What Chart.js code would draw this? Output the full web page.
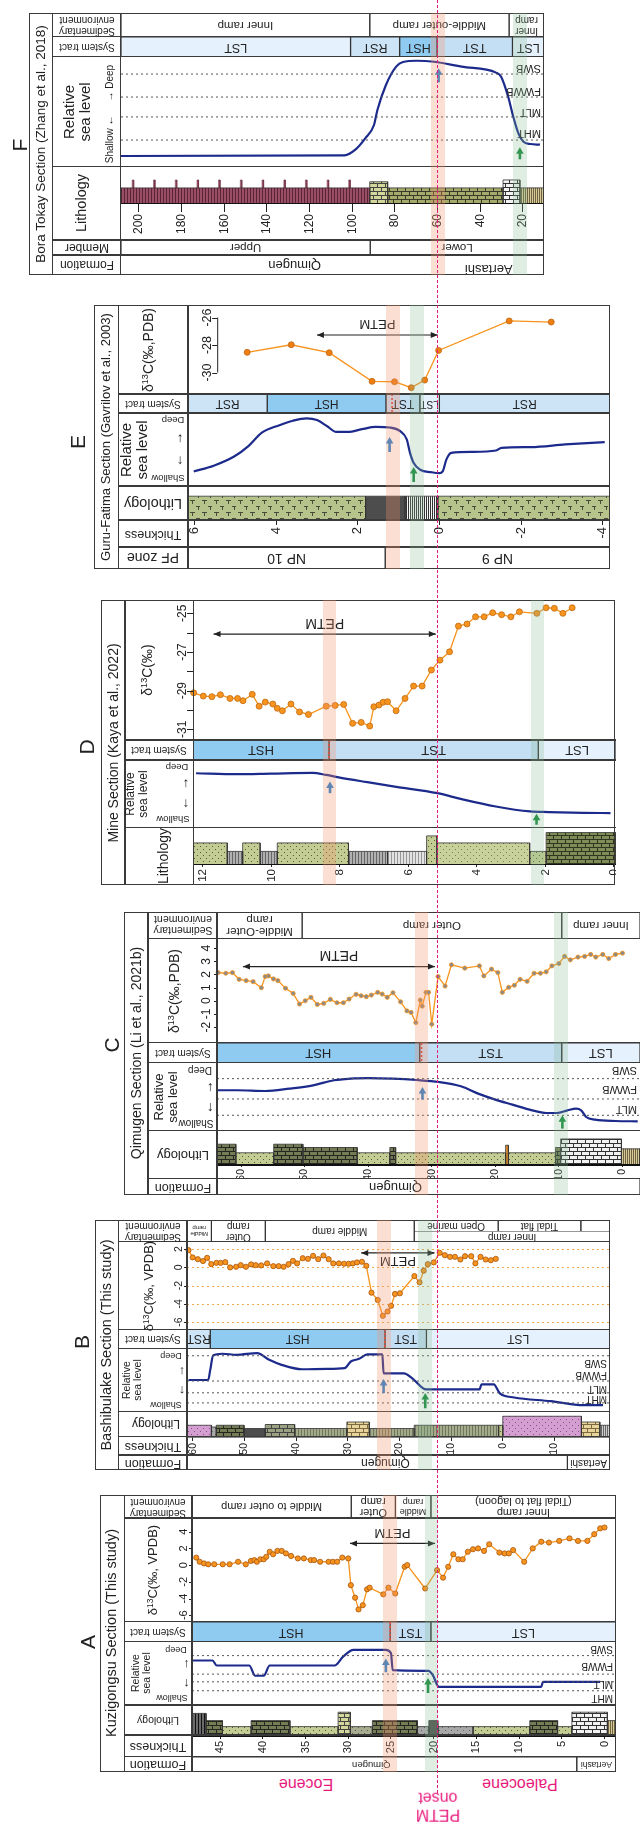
<!DOCTYPE html>
<html>
<head>
<meta charset="utf-8">
<script src="https://cdn.jsdelivr.net/npm/chart.js@4.4.1/dist/chart.umd.min.js"></script>
<style>
  html, body { margin: 0; padding: 0; background: #fff; }
  #fig { position: relative; width: 640px; height: 1826px; overflow: hidden;
         font-family: "Liberation Sans", Arial, sans-serif; color: #222; }
  #fig canvas { position: absolute; }
  .ln { position: absolute; background: #3a3a3a; }
  .frame { position: absolute; border: 1.5px solid #3a3a3a; box-sizing: border-box; }
  .tx { position: absolute; white-space: nowrap; text-align: center; line-height: 1.05; }
  .tx sup { font-size: 0.65em; vertical-align: 0.55em; line-height: 0; }
  .shade { position: absolute; }
</style>
</head>
<body>
<div id="fig"></div>
<script>
const FONT = '"Liberation Sans", Arial, sans-serif';
const ORANGE = '#f7941d', NAVY = '#1c2a8c', MAGENTA = '#e8197d';

// --- A: Kuzigongsu section ------------------------------------------------
const A_C13 = [[47.8,0.9],[47.4,0.4],[46.9,0.2],[46.4,0.1],[45.7,0.1],[44.7,0.1],[43.9,0.1],[42.9,0.4],[42.0,0.1],[41.4,0.5],[41.0,0.6],[40.7,0.4],[40.3,0.7],[39.9,0.7],[39.6,1.0],[39.2,1.6],[38.8,1.3],[38.3,1.7],[37.8,1.7],[37.3,1.4],[36.7,1.1],[35.9,0.8],[35.2,0.8],[34.4,0.6],[34.0,0.6],[33.3,0.4],[32.3,0.4],[31.8,0.4],[31.3,0.4],[30.7,0.9],[30.0,0.8],[29.7,-2.4],[29.2,-3.9],[28.8,-5.3],[28.3,-4.8],[27.8,-2.9],[27.5,-2.7],[25.9,-3.5],[25.3,-2.7],[24.5,-3.4],[23.4,-0.2],[23.1,0.0],[21.0,-2.8],[19.6,-0.6],[18.9,-1.5],[18.3,-0.2],[17.7,1.3],[17.1,0.7],[16.6,0.7],[16.0,1.6],[15.4,1.9],[14.8,2.0],[14.1,1.7],[13.5,2.5],[12.3,1.5],[11.7,1.4],[11.2,1.4],[10.7,1.8],[9.4,0.4],[8.4,2.0],[7.4,2.8],[6.5,2.7],[5.3,2.9],[4.1,3.2],[3.1,2.9],[2.0,2.9],[1.2,3.7],[0.5,4.4],[0.0,4.5]];
const A_C13_TICKS = [-6, -4, -2, 0, 2, 4];
const A_PETM = { from: 29.8, to: 19.85, y: 2.6, textY: 3.9 };
const A_SEA = [[48.2,70.6],[45.9,70.6],[45.4,62.7],[41.6,62.7],[40.9,46.4],[39.9,46.4],[39.2,62.7],[31.6,62.7],[30.6,76.8],[29.4,87.4],[25.6,87.4],[25.0,82.2],[24.8,55.3],[20.6,54.2],[20.1,47.4],[19.4,28.9],[7.4,28.9],[7.2,36.8],[0.5,36.8]];
const A_SEA_LINES = [78.4, 49, 36.8, 22.6];
const A_SEA_LABELS = [['SWB', 90], ['FWWB', 62], ['MLT', 33], ['MHT', 12]];
const A_ARROWS = [[25.6, 52, 74, 'blue'], [20.66, 19, 43, 'green']];
const A_LITH = [[48.3,46.65,72,'hatch'],[46.65,44.73,48,'brickDark'],[44.73,41.38,28,'dot'],[41.38,36.83,48,'brickDark'],[36.83,31.19,28,'dot'],[31.19,29.76,76,'brickOlive'],[29.76,27.18,28,'dotGray'],[27.18,21.91,48,'brickDark'],[21.91,20.57,28,'gray'],[20.57,19.51,48,'dark'],[19.51,15.39,28,'gray'],[15.39,8.75,28,'dot'],[8.75,5.49,48,'brickDark'],[5.49,3.82,28,'dot'],[3.82,-0.34,76,'brickWhite'],[-0.34,-1.35,48,'stripeBeige']];
const A_THICK_TICKS = [0, 5, 10, 15, 20, 25, 30, 35, 40, 45];
const A_TRACTS = [[48.3,25.1,'HST'],[25.1,20.33,'TST'],[20.33,-1.35,'LST']];
const A_MFS = 25.1;
const A_ENV = [[48.3,29.66,'Middle to outer ramp'],[29.66,24.49,'Outer\nramp'],[24.49,20.33,'Middle\nramp',0,1,null,1,9],[20.33,-1.35,'Inner ramp\n(Tidal flat to lagoon)']];
const A_FM = [[48.3,3.25,'Qimugen',0,1,27.3],[3.25,-1.35,'Aertashi',0,1,null,1,8.5]];
const A_SHADE = [[25.9,24.3,'orange'],[21.04,19.51,'green']];

// --- B: Bashibulake section -----------------------------------------------
const B_C13 = [[60.8,1.9],[60.0,1.1],[59.0,0.9],[58.0,0.7],[57.2,1.05],[56.4,0.36],[55.4,0.5],[54.6,0.5],[53.7,0.58],[52.75,0],[51.6,0.07],[50.7,0.25],[49.7,0.07],[48.7,0.33],[47.8,0.25],[46.75,0.22],[45.6,0.44],[44.4,0.14],[43.35,0.14],[42.4,0.07],[41.45,0.36],[40.6,0.72],[39.8,0.44],[38.7,1.01],[37.7,0.94],[36.7,1.27],[35.7,0.91],[34.7,1.31],[33.7,0.91],[32.8,0.44],[31.7,0.44],[30.7,0.4],[29.8,0.4],[29.0,0.44],[28.2,0.55],[27.25,0.62],[26.4,0.18],[25.4,-2.77],[24.2,-3.57],[23.2,-5.31],[22.3,-4.84],[21.6,-4.22],[20.85,-2.91],[19.9,-2.84],[17.1,-0.95],[16.1,-1.64],[15.3,-0.36],[14.5,0.36],[13.35,0.55],[12.2,1.6],[11.2,1.34],[10.2,1.16],[9.25,1.16],[8.2,0.87],[7.3,1.23],[6.1,1.23],[5.3,0.44],[4.3,1.16],[3.3,0.87],[2.3,0.79],[1.35,0.94]];
const B_C13_TICKS = [-6, -4, -2, 0, 2];
const B_PETM = { from: 27.4, to: 13.2, y: 1.59, textY: 0.75 };
const B_SEA = [[60.8,50],[57.0,50],[56.6,65.8],[56.05,88.3],[54.25,91],[51.5,89.4],[47.5,92.1],[45.2,81.5],[42.8,73.7],[38.9,66.8],[34.1,67.4],[30.6,68.5],[29.4,78.9],[27.8,83.1],[26.2,89.9],[23.3,89.9],[23.06,60.5],[19.1,60.5],[17.5,52.6],[14.8,35.3],[10.4,35.3],[4.5,35.3],[4.1,43.2],[1.75,43.2],[0.56,29],[-2.2,22.7],[-9.3,16.9],[-15.6,10.6],[-19.4,10.6]];
const B_SEA_LINES = [87.9, 48.4, 30, 14.2];
const B_SEA_LABELS = [['SWB', 77], ['FWWB', 58], ['MLT', 37], ['MHT', 21]];
const B_ARROWS = [[23.06, 29.5, 51.6, 'blue'], [15.0, 5.8, 29.5, 'green']];
const B_LITH = [[61.1,56.38,47,'pinkDot'],[56.38,55.44,40,'gray'],[55.44,50.06,47,'brickDark'],[50.06,45.96,34,'dark'],[45.96,40.27,50,'brickGreenGray'],[40.27,30.17,34,'greenGray'],[30.17,25.82,60,'brickBeige'],[25.82,17.14,34,'greenGray'],[17.14,0.8,47,'greenGray'],[0.8,0,47,'dot'],[0,-15.22,83,'pinkDot'],[-15.22,-18.78,60,'brickBeige'],[-18.78,-20.75,47,'stripeGray']];
const B_THICK_TICKS = [-10, 0, 10, 20, 30, 40, 50, 60];
const B_TRACTS = [[61.1,56.6,'RST'],[56.6,22.8,'HST'],[22.8,14.77,'TST'],[14.77,-20.75,'LST']];
const B_MFS = 22.8;
const B_ENV = [[61.1,56.38,'Middle\nramp',0,2,null,1,6],[56.38,45.96,'Outer\nramp',0,2],[45.96,17.14,'Middle ramp',0,2],[17.14,0.9,'Open marine',1,2],[0.9,-15.1,'Tidal flat',1,2],[-15.1,-20.75,'',1,2],[17.14,-20.75,'Inner ramp',0,1]];
const B_FM = [[61.1,-12.5,'Qimugen',0,1,22.7],[-12.5,-20.75,'Aertashi',0,1,null,1,10]];
const B_SHADE = [[24.24,21.64,'orange'],[16.34,13.75,'green']];

// --- C: Qimugen section (Li et al., 2021b) --------------------------------
const C_C13 = [[63.6,2.14],[62.4,2.09],[61.35,2.14],[60.3,1.63],[59.2,1.53],[58.1,1.45],[56.8,0.99],[56.2,1.84],[55.7,1.89],[54.9,1.66],[54.2,1.53],[53.0,0.95],[51.8,0.56],[50.8,-0.25],[49.9,0],[49.0,0.26],[48.0,-0.28],[47.0,-0.2],[45.95,0.1],[44.9,-0.15],[43.9,-0.15],[43.0,0.13],[41.9,0.49],[41.1,0.38],[40.3,0.31],[39.5,0.43],[38.5,0.64],[37.8,0.51],[37.0,0.26],[36.1,0.61],[34.9,-0.08],[33.9,-0.77],[33.25,-0.89],[32.5,-1.66],[31.8,0.05],[31.5,-0.41],[30.9,0.64],[30.5,0.64],[30.0,-1.78],[29.0,1.84],[27.9,1.12],[26.9,2.73],[24.8,2.48],[22.5,2.65],[21.8,1.89],[20.6,2.4],[19.6,2.14],[18.9,0.64],[17.9,1.02],[17.0,1.18],[16.1,1.63],[15.0,1.48],[13.9,2.09],[12.9,2.09],[12.0,2.2],[11.1,2.65],[10.0,2.83],[9.1,3.37],[8.2,3.11],[7.0,3.32],[5.95,3.37],[5.0,3.52],[4.2,3.32],[3.1,3.52],[2.15,3.21],[1.1,3.52],[0,3.62]];
const C_C13_TICKS = [-2, -1, 0, 1, 2, 3, 4];
const C_PETM = { from: 59.7, to: 29.5, y: 2.6, textY: 3.5 };
const C_SEA = [[63.8,59.9],[60.55,59.9],[56.2,58.8],[52.4,62.3],[48.65,67.2],[45.4,74.6],[42.2,77.5],[40,77.9],[36.2,77],[32.4,75],[28.9,72.1],[25.4,65.7],[22.7,55],[20,46.2],[17.3,38.8],[14.6,31.4],[11.9,26.5],[10.3,26.5],[8.65,30.4],[7.3,32.9],[6.5,30.4],[5.7,20.6],[4.3,16.7],[1.1,14.7],[-2.4,14.3]];
const C_SEA_LINES = [77, 47.1, 23.1];
const C_SEA_LABELS = [['SWB', 89], ['FWWB', 62], ['MLT', 33]];
const C_ARROWS = [[31.46, 46.2, 64.7, 'blue'], [9.45, 3.5, 23.1, 'green']];
const C_LITH = [[63.78,60.82,60,'brickDark'],[60.82,54.87,34,'dot'],[54.87,50.27,60,'brickDark'],[50.27,41.73,50,'brickDark'],[41.73,36.6,34,'dot'],[36.6,35.68,50,'brickDark'],[35.68,18.38,34,'dot'],[18.38,17.94,57,'orange'],[17.94,10.53,34,'dot'],[10.53,9.73,50,'brickDark'],[9.73,0.16,76,'brickWhite'],[0.16,-2.76,46,'stripeBeige']];
const C_THICK_TICKS = [0, 10, 20, 30, 40, 50, 60];
const C_TRACTS = [[63.78,31.9,'HST'],[31.9,9.56,'TST'],[9.56,-2.76,'LST']];
const C_MFS = 31.6;
const C_ENV = [[63.78,50.4,'Middle-Outer\nramp'],[50.4,9.56,'Outer ramp'],[9.56,-2.76,'Inner ramp']];
const C_FM = [[63.78,-2.76,'Qimugen',0,1,35.7]];
const C_SHADE = [[32.7,30.53,'orange'],[10.7,8.54,'green']];

// --- D: Mine section (Kaya et al., 2022) ----------------------------------
const D_C13 = [[12.27,-29.11],[11.99,-29.28],[11.74,-29.31],[11.49,-29.21],[11.21,-29.4],[10.99,-29.4],[10.83,-29.52],[10.56,-29.19],[10.36,-29.8],[10.18,-29.59],[9.96,-29.69],[9.83,-29.91],[9.68,-30.04],[9.43,-29.69],[9.18,-30.1],[8.92,-30.23],[8.4,-29.8],[8.14,-29.76],[7.89,-29.71],[7.63,-30.69],[7.38,-30.64],[7.13,-30.83],[7.01,-29.83],[6.86,-29.74],[6.74,-29.6],[6.61,-29.57],[6.36,-30.04],[6.1,-29.4],[5.85,-28.76],[5.6,-28.76],[5.33,-27.93],[5.08,-27.42],[4.8,-26.99],[4.54,-25.66],[4.29,-25.55],[4.04,-25.18],[3.79,-25.18],[3.54,-24.97],[3.28,-25.07],[3.01,-25.18],[2.76,-24.92],[2.25,-25.0],[1.98,-24.71],[1.74,-24.74],[1.49,-25.0],[1.22,-24.71]];
const D_C13_TICKS = [-31, -29, -27, -25];
const D_C13_MINOR = [-31, -30, -29, -28, -27, -26, -25];
const D_PETM = { from: 11.69, to: 5.2, y: -26.07, textY: -25.5 };
const D_SEA = [[12.2,80.2],[11.0,78.8],[10.0,79.7],[8.8,80.7],[8.4,77.7],[8.0,73.7],[7.2,66.9],[6.4,60.3],[5.15,50.5],[4.45,41.6],[3.45,30.6],[2.45,23.2],[1.9,22.3],[0.9,21.2],[0.1,20.8]];
const D_ARROWS = [[8.29, 50.5, 67.8, 'blue'], [2.26, 3.4, 19.8, 'green']];
const D_LITH = [[12.3,11.29,57,'dot'],[11.29,10.84,34,'vline'],[10.84,10.33,57,'dot'],[10.33,9.83,34,'vline'],[9.83,7.75,57,'dot'],[7.75,6.61,34,'vline'],[6.61,5.47,34,'vlineLight'],[5.47,5.17,76,'dot'],[5.17,2.46,57,'dotFine'],[2.46,1.98,34,'dot'],[1.98,-0.06,85,'brickDarkGreen']];
const D_THICK_TICKS = [0, 2, 4, 6, 8, 10, 12];
const D_TRACTS = [[12.29,8.32,'HST'],[8.32,2.21,'TST'],[2.21,-0.06,'LST']];
const D_MFS = 8.32;
const D_SHADE = [[8.49,8.1,'orange'],[2.43,2.03,'green']];

// --- E: Guru-Fatima section (Gavrilov et al., 2003) -----------------------
const E_C13 = [[4.71,-28.53],[3.63,-27.98],[2.7,-28.56],[1.65,-30.64],[1.1,-30.67],[0.69,-31.1],[0.36,-30.55],[0.02,-28.39],[-1.71,-26.25],[-2.74,-26.33]];
const E_C13_TICKS = [-30, -28, -26];
const E_PETM = { from: 3.0, to: 0.04, y: -27.27, textY: -26.45 };
const E_SEA = [[6.02,19.9],[5.53,27.8],[5.02,40.7],[4.68,54.6],[4.35,73.1],[3.92,83.3],[3.59,89.4],[3.25,92.6],[3.0,90.3],[2.74,81.5],[2.53,74.1],[2.24,74.1],[1.9,77.8],[1.56,81],[1.22,80.1],[0.97,75.5],[0.8,63.9],[0.72,45.4],[0.63,31.5],[0.47,22.2],[0.21,19],[0,17.6],[-0.08,19.9],[-0.17,36.1],[-0.29,45.4],[-0.8,46.8],[-1.39,48.6],[-1.52,52.3],[-2.24,53.2],[-3.08,56.9],[-4.05,60.2]];
const E_ARROWS = [[1.22, 46.6, 67.1, 'blue'], [0.63, 5.5, 26, 'green']];
const E_LITH = [[6.16,1.81,70,'tee'],[1.81,0.84,70,'dark'],[0.84,0.04,70,'vlineWhite'],[0.04,-4.18,70,'tee']];
const E_THICK_TICKS = [-4, -2, 0, 2, 4, 6];
const E_TRACTS = [[6.16,4.22,'RST'],[4.22,1.31,'HST'],[1.31,0.48,'TST'],[0.48,0.0,'LST',0,1,null,1,10],[0.0,-4.18,'RST']];
const E_MFS = 1.16;
const E_PF = [[6.16,1.33,'NP 10'],[1.33,-4.18,'NP 9']];
const E_SHADE = [[1.31,0.97,'orange'],[0.72,0.38,'green']];

// --- F: Bora Tokay section (Zhang et al., 2018) ---------------------------
const F_SEA = [[208.4,10],[103.6,10.6],[98.7,15.5],[93.9,26.1],[89.8,38.2],[88.2,51.8],[84.2,74.5],[79.4,91.2],[76.2,95.5],[69.7,96.6],[61.6,95.7],[48.7,91.2],[32.6,85.8],[30.2,82.1],[26.9,63.9],[24.5,45.7],[22.1,30.6],[19.7,23],[16.5,20.9],[12,20.3]];
const F_SEA_LINES = [84.5, 63.6, 45.5, 24.5];
const F_SEA_LABELS = [['SWB', 89.7], ['FWWB', 69.4], ['MLT', 50], ['MHT', 31.2]];
const F_ARROWS = [[59.5, 77, 89.7, 'blue'], [21.4, 7, 17.9, 'green']];
const F_LITH = [[208.4,91.8,42,'pink'],[91.8,83.4,59,'brickOlive'],[83.4,29.3,42,'brickDarkOlive'],[29.3,21.4,64,'brickWhite'],[21.4,10.1,42,'stripeBeige']];
const F_NODULES = [202.8, 192.8, 182.6, 172.4, 162.3, 152.1, 141.9, 131.7, 121.6, 111.4, 101.3];
const F_THICK_TICKS = [20, 40, 60, 80, 100, 120, 140, 160, 180, 200];
const F_TRACTS = [[208.4,100.8,'LST'],[100.8,77.8,'RST'],[77.8,60.3,'HST'],[60.3,24.9,'TST'],[24.9,10.1,'LST']];
const F_ENV = [[208.4,91.8,'Inner ramp'],[91.8,26.5,'Middle-outer ramp'],[26.5,10.1,'Inner\nramp',0,1,null,1,10]];
const F_MEMBER = [[208.4,91.6,'Upper'],[91.6,10.1,'Lower']];
const F_FM = [[208.4,10.1,'Qimugen',0,1,127,0],[59.5,10.1,'Aertashi',0,0.62,36],[21.4,10.1,'',0.62,1]];
const F_SHADE = [[62.9,56.5,'orange'],[24.5,18.1,'green']];

const PETM_ONSET_A = 19.5;

// --------------------------------------------------------------------------
Chart.defaults.font.family = FONT;
Chart.defaults.color = '#222';
const fig = document.getElementById('fig');

const TRACT_FILL = { HST: '#8fcbf1', TST: '#c4def4', LST: '#e5f1fc', RST: '#cde4f6' };
const SHADE_FILL = { orange: 'rgba(245,150,110,0.30)', green: 'rgba(130,185,145,0.26)' };
const ARROW_COL = { blue: '#1f7fd0', green: '#168a3a' };

// lithology fills ------------------------------------------------------------
function tile(w, h, bg, fg, draw) {
  const c = document.createElement('canvas');
  c.width = w; c.height = h;
  const g = c.getContext('2d');
  g.fillStyle = bg; g.fillRect(0, 0, w, h);
  g.fillStyle = fg;
  if (draw) draw(g);
  return g.createPattern(c, 'repeat');
}
const dots  = g => { g.fillRect(1, 1, 1, 1); g.fillRect(4, 4, 1, 1); };
const brick = g => { g.fillRect(0, 0, 8, 1); g.fillRect(0, 4, 8, 1); g.fillRect(0, 0, 1, 4); g.fillRect(4, 4, 1, 4); };
const vl    = g => g.fillRect(0, 0, 1, 8);
const tee   = g => { g.fillRect(2, 2, 5, 1); g.fillRect(4, 2, 1, 4); g.fillRect(8, 8, 5, 1); g.fillRect(10, 8, 1, 4); };
const PAT = {
  dot:            tile(6, 6, '#c3cc92', '#56583e', dots),
  dotFine:        tile(6, 6, '#c9d19b', '#7a7a60', dots),
  dotGray:        tile(6, 6, '#a9ad90', '#555', dots),
  gray:           tile(6, 6, '#a8a8a8', '#666', dots),
  pinkDot:        tile(6, 6, '#d49fd0', '#84508a', dots),
  brickDark:      tile(8, 8, '#737c54', '#262620', brick),
  brickOlive:     tile(8, 8, '#d3d69a', '#444', brick),
  brickDarkOlive: tile(8, 8, '#a4aa6a', '#3a3a2a', brick),
  brickWhite:     tile(8, 8, '#f2f2f2', '#333', brick),
  brickBeige:     tile(8, 8, '#e8d49a', '#7a6a40', brick),
  brickGreenGray: tile(8, 8, '#9ba283', '#444', brick),
  brickDarkGreen: tile(8, 8, '#7f8c55', '#2f3520', brick),
  greenGray:      tile(3, 8, '#a3ab88', '#6f7560', vl),
  hatch:          tile(3, 8, '#6a6a6a', '#111', vl),
  stripeBeige:    tile(2, 8, '#d6ca98', '#6e6240', vl),
  stripeGray:     tile(2, 8, '#cfcfcf', '#666', vl),
  pink:           tile(3, 8, '#9b4f66', '#5b2336', vl),
  vline:          tile(3, 8, '#b0b0b0', '#666', vl),
  vlineLight:     tile(3, 8, '#e2e2e2', '#999', vl),
  vlineWhite:     tile(2, 8, '#f5f5f5', '#333', vl),
  tee:            tile(12, 12, '#b6c48c', '#4a4a3a', tee),
  dark: '#4d4d4d',
  orange: '#e8902a'
};

// DOM helpers ----------------------------------------------------------------
function canvasAt(x0, y0, x1, y1) {
  const c = document.createElement('canvas');
  const L = Math.round(x0), T = Math.round(y0);
  const W = Math.round(x1) - L, H = Math.round(y1) - T;
  c.width = W; c.height = H;
  c.style.left = L + 'px'; c.style.top = T + 'px';
  c.style.width = W + 'px'; c.style.height = H + 'px';
  c.left = L;
  fig.appendChild(c);
  return c;
}
function div(cls, x, y, w, h, bg) {
  const d = document.createElement('div');
  d.className = cls;
  d.style.left = x + 'px'; d.style.top = y + 'px';
  d.style.width = w + 'px'; d.style.height = h + 'px';
  if (bg) d.style.background = bg;
  fig.appendChild(d);
  return d;
}
function hline(x0, x1, y, w) { w = w || 1.5; div('ln', x0, y - w / 2, x1 - x0, w); }
function vline(x, y0, y1, w) { w = w || 1.5; div('ln', x - w / 2, y0, w, y1 - y0); }
function txt(html, cx, cy, rot, size, color) {
  const d = document.createElement('div');
  d.className = 'tx';
  d.innerHTML = html;
  d.style.fontSize = size + 'px';
  d.style.left = cx + 'px'; d.style.top = cy + 'px';
  d.style.transform = 'translate(-50%,-50%) rotate(' + rot + 'deg)';
  if (color) d.style.color = color;
  fig.appendChild(d);
}

// canvas drawing helpers -----------------------------------------------------
function rotText(ctx, text, x, y, ang, size, color, align) {
  ctx.save();
  ctx.translate(x, y); ctx.rotate(ang);
  ctx.font = size + 'px ' + FONT;
  ctx.fillStyle = color || '#222';
  ctx.textAlign = align || 'center';
  ctx.textBaseline = 'middle';
  const lines = String(text).split('\n'), lh = size * 1.05;
  lines.forEach((s, i) => ctx.fillText(s, 0, (i - (lines.length - 1) / 2) * lh));
  ctx.restore();
}
function upArrow(ctx, x, yb, yt, col) {
  ctx.save();
  ctx.strokeStyle = col; ctx.fillStyle = col; ctx.lineWidth = 2.6;
  ctx.beginPath(); ctx.moveTo(x, yb); ctx.lineTo(x, yt + 6); ctx.stroke();
  ctx.beginPath(); ctx.moveTo(x - 3.8, yt + 6.5); ctx.lineTo(x + 3.8, yt + 6.5); ctx.lineTo(x, yt); ctx.closePath(); ctx.fill();
  ctx.restore();
}
function dblArrow(ctx, xa, xb, y) {
  ctx.save();
  ctx.strokeStyle = '#222'; ctx.fillStyle = '#222'; ctx.lineWidth = 1.2;
  ctx.beginPath(); ctx.moveTo(xa, y); ctx.lineTo(xb, y); ctx.stroke();
  [[xa, 1], [xb, -1]].forEach(([x, d]) => {
    ctx.beginPath(); ctx.moveTo(x, y); ctx.lineTo(x + d * 7, y - 3); ctx.lineTo(x + d * 7, y + 3); ctx.closePath(); ctx.fill();
  });
  ctx.restore();
}

// plugins: each reads its settings from chart.canvas.cfg ---------------------
const bandText = {
  id: 'bandText',
  afterDatasetsDraw(chart) {
    const cfg = chart.canvas.cfg, { ctx, chartArea: a, scales: { x, y } } = chart;
    cfg.bands.forEach(b => {
      const [t0, t1, label, lo = 0, hi = 1, lt, , fs] = b;
      if (!label) return;
      const cx = lt != null ? x.getPixelForValue(lt) : (x.getPixelForValue(t0) + x.getPixelForValue(t1)) / 2;
      const cy = (y.getPixelForValue(lo) + y.getPixelForValue(hi)) / 2;
      rotText(ctx, label, cx, cy, Math.PI, fs || cfg.size);
    });
    if (cfg.mfs != null) {
      const px = x.getPixelForValue(cfg.mfs);
      ctx.save();
      ctx.strokeStyle = '#e0302a'; ctx.lineWidth = 1.5; ctx.setLineDash([2, 2]);
      ctx.beginPath(); ctx.moveTo(px, a.top); ctx.lineTo(px, a.bottom); ctx.stroke();
      ctx.restore();
    }
  }
};

const c13Axis = {
  id: 'c13Axis',
  beforeDatasetsDraw(chart) {
    const cfg = chart.canvas.cfg, { ctx, chartArea: a, scales: { y } } = chart;
    if (!cfg.grid) return;
    ctx.save();
    ctx.strokeStyle = '#f5a84a'; ctx.lineWidth = 1; ctx.setLineDash([2, 3]);
    cfg.ticks.forEach(v => {
      const py = Math.round(y.getPixelForValue(v)) + 0.5;
      ctx.beginPath(); ctx.moveTo(a.left, py); ctx.lineTo(a.right, py); ctx.stroke();
    });
    ctx.restore();
  },
  afterDatasetsDraw(chart) {
    const cfg = chart.canvas.cfg, { ctx, chartArea: a, scales: { x, y } } = chart;
    const ax = a.left + (cfg.axisOffset || 0);
    ctx.save();
    ctx.strokeStyle = '#222'; ctx.lineWidth = 1;
    if (cfg.axisLine) {
      const ys = cfg.ticks.map(v => y.getPixelForValue(v));
      ctx.beginPath(); ctx.moveTo(ax + 0.5, Math.min(...ys)); ctx.lineTo(ax + 0.5, Math.max(...ys)); ctx.stroke();
    }
    (cfg.minor || cfg.ticks).forEach(v => {
      const py = Math.round(y.getPixelForValue(v)) + 0.5;
      ctx.beginPath(); ctx.moveTo(ax - cfg.tickLen, py); ctx.lineTo(ax, py); ctx.stroke();
    });
    ctx.restore();
    cfg.ticks.forEach(v => rotText(ctx, String(v), ax - cfg.gap, y.getPixelForValue(v), -Math.PI / 2, cfg.size));
    const p = cfg.petm;
    if (p) {
      const xa = x.getPixelForValue(p.from), xb = x.getPixelForValue(p.to);
      dblArrow(ctx, xa, xb, y.getPixelForValue(p.y));
      rotText(ctx, 'PETM', (xa + xb) / 2, y.getPixelForValue(p.textY), Math.PI, cfg.petmSize);
    }
  }
};

const seaDeco = {
  id: 'seaDeco',
  afterDatasetsDraw(chart) {
    const cfg = chart.canvas.cfg, { ctx, chartArea: a, scales: { x, y } } = chart;
    (cfg.labels || []).forEach(([s, v]) => rotText(ctx, s, a.right - 3, y.getPixelForValue(v), Math.PI, cfg.size, '#222', 'left'));
    (cfg.arrows || []).forEach(([t, v0, v1, c]) => upArrow(ctx, x.getPixelForValue(t), y.getPixelForValue(v0), y.getPixelForValue(v1), ARROW_COL[c]));
  }
};

function mk(cv, datasets, scales, plugins, padding) {
  return new Chart(cv, {
    type: 'line',
    data: { datasets },
    options: {
      responsive: false, animation: false, events: [],
      layout: { padding: padding || 0, autoPadding: false },
      plugins: { legend: { display: false }, tooltip: { enabled: false } },
      scales
    },
    plugins: plugins || []
  });
}

function bandSet(b, fill) {
  const [t0, t1, label, lo = 0, hi = 1, , border] = b;
  return {
    data: [{ x: t0, y: lo }, { x: t0, y: hi }, { x: t1, y: hi }, { x: t1, y: lo }],
    fill: { value: lo }, backgroundColor: fill(label),
    borderColor: border === 0 ? 'rgba(0,0,0,0)' : '#333', borderWidth: 1.2,
    pointRadius: 0, tension: 0
  };
}

// one panel -----------------------------------------------------------------
function build(P) {
  const xs = (show, extra) => Object.assign({
    type: 'linear', bounds: 'data', display: !!show,
    min: Math.min(P.tl, P.tr), max: Math.max(P.tl, P.tr), reverse: P.tl > P.tr
  }, extra || {});
  const ys = (min, max) => ({ type: 'linear', bounds: 'data', display: false, min, max });

  const bandRow = (range, list, fill, size, lanes, mfs) => {
    const cv = canvasAt(P.x0, range[0], P.x1, range[1]);
    cv.cfg = { bands: list, size, mfs };
    mk(cv, list.map(b => bandSet(b, fill)), { x: xs(false), y: ys(0, lanes || 1) }, [bandText]);
  };
  const white = () => '#ffffff';

  if (P.envData) bandRow(P.env, P.envData, white, P.envSize, P.envLanes);
  bandRow(P.st, P.tracts, l => TRACT_FILL[l], P.tractSize, 1, P.mfs);
  if (P.memData) bandRow(P.mem, P.memData, white, P.memSize);
  if (P.fmData) bandRow(P.fm, P.fmData, white, P.fmSize);

  if (P.c13Data) {
    const cv = canvasAt(P.x0 - P.c13Zone, P.c13[0], P.x1, P.c13[1]);
    cv.cfg = { ticks: P.c13Ticks, minor: P.c13Minor, gap: P.c13Gap, size: P.c13Size, tickLen: P.c13TickLen || 3,
               axisOffset: P.c13AxisOffset, axisLine: P.c13AxisLine, grid: P.c13Grid, petm: P.petm, petmSize: P.petmSize };
    mk(cv, [{
      data: P.c13Data.map(([x, y]) => ({ x, y })),
      borderColor: ORANGE, borderWidth: 1.3, tension: 0, clip: 6,
      pointRadius: P.ptR, pointBackgroundColor: P.ptFill, pointBorderColor: P.ptEdge, pointBorderWidth: 0.8
    }], { x: xs(false), y: ys(P.c13Range[0], P.c13Range[1]) }, [c13Axis], { left: Math.round(P.x0) - Math.round(P.x0 - P.c13Zone) });
  }

  {
    const cv = canvasAt(P.x0, P.sl[0], P.x1, P.sl[1]);
    cv.cfg = { labels: P.seaLabels, size: P.seaLabelSize, arrows: P.arrows };
    const sets = (P.seaLines || []).map(v => ({
      data: [{ x: P.tl, y: v }, { x: P.tr, y: v }],
      borderColor: '#555', borderWidth: 1, borderDash: [2, 3], pointRadius: 0
    }));
    sets.push({
      data: P.seaData.map(([x, y]) => ({ x, y })),
      borderColor: NAVY, borderWidth: 2.2, pointRadius: 0, cubicInterpolationMode: 'monotone'
    });
    mk(cv, sets, { x: xs(false), y: ys(0, 100) }, [seaDeco]);
  }

  const lcv = canvasAt(P.x0, P.lith[0], P.x1, P.axis[1]);
  lcv.cfg = {};
  const lithSets = P.lithData.map(([t0, t1, h, k]) => ({
    data: [{ x: t0, y: 0 }, { x: t0, y: h }, { x: t1, y: h }, { x: t1, y: 0 }],
    fill: { value: 0 }, backgroundColor: PAT[k], borderColor: '#333', borderWidth: 0.8, pointRadius: 0, tension: 0
  }));
  (P.nodules || []).forEach(t => lithSets.push({
    data: [{ x: t + 0.35, y: 0 }, { x: t + 0.35, y: 64 }, { x: t - 0.35, y: 64 }, { x: t - 0.35, y: 0 }],
    fill: { value: 0 }, backgroundColor: '#9b4f66', borderColor: '#6b2a3e', borderWidth: 0.6, pointRadius: 0
  }));
  const axisH = Math.round(P.axis[1]) - Math.round(P.axis[0]);
  const lc = mk(lcv, lithSets, {
    x: xs(true, {
      position: 'bottom',
      afterBuildTicks: s => { s.ticks = P.thickTicks.map(v => ({ value: v })); },
      afterFit: s => { s.height = axisH; },
      ticks: { minRotation: 90, maxRotation: 90, autoSkip: false, padding: 2,
               font: { size: P.axisSize, family: FONT }, color: '#222', callback: v => String(v) },
      grid: { display: true, drawOnChartArea: false, drawTicks: true, tickLength: P.tickLen, color: '#222', lineWidth: 1 },
      border: { display: true, color: '#111', width: P.borderW }
    }),
    y: ys(0, 100)
  });

  // frame, row lines
  const fr = div('frame', P.L, P.top, P.x1 - P.L + (P.openRight ? 4 : 0), P.bot - P.top);
  vline(P.tc, P.top, P.bot);
  vline(P.x0, P.top, P.bot);
  P.lines.forEach(y => hline(P.tc, P.x1, y));

  // translucent event bands
  const px = t => lc.scales.x.getPixelForValue(t) + lcv.left;
  P.shade.forEach(([t0, t1, c]) => {
    const a = px(t0), b = px(t1);
    div('shade', Math.min(a, b), P.top, Math.abs(b - a), P.bot - P.top, SHADE_FILL[c]);
  });

  // header cells
  const hx = f => P.tc + f * (P.x0 - P.tc);
  P.hdr.forEach(([r, html, rot, size, f]) => {
    const rg = typeof r === 'string' ? P[r] : r;
    txt(html, hx(f), (rg[0] + rg[1]) / 2, rot, size);
  });
  const s = P.sea, [a, b] = P.sl;
  txt('Relative<br>sea level', hx(s.rel), (a + b) / 2, -90, s.relSize);
  if (s.combined) {
    txt('Shallow &#8592;&nbsp;&nbsp;&nbsp;&nbsp;&nbsp;&#8594; Deep', hx(s.arr), (a + b) / 2 + 2, -90, s.small);
  } else {
    txt('Deep', hx(s.deep), a + 7, 180, s.small);
    txt('Shallow', hx(s.shallow), b - 8, 180, s.small);
    txt('&#8593;', hx(s.arr), a + (b - a) * 0.34, 0, s.small + 4);
    txt('&#8595;', hx(s.arr), a + (b - a) * 0.64, 0, s.small + 4);
  }
  txt(P.title, (P.L + P.tc) / 2, (P.top + P.bot) / 2, -90, P.titleSize);
  txt(P.letter, P.lx, P.ly, -90, 21);
  return { px };
}

// panels -------------------------------------------------------------------
const PANEL_A = {
  title: 'Kuzigongsu Section (This study)', titleSize: 14.5, letter: 'A', lx: 88, ly: 1642,
  L: 100, tc: 124.5, x0: 191.8, x1: 615.5, top: 1495, bot: 1771.7, tl: 48.3, tr: -1.35,
  env: [1495, 1518], c13: [1518, 1621.7], st: [1621.7, 1641.7], sl: [1641.7, 1705], lith: [1705, 1735], axis: [1735, 1756.7], fm: [1756.7, 1771.7],
  lines: [1518, 1621.7, 1641.7, 1705, 1735, 1756.7],
  c13Data: A_C13, c13Range: [-6.81, 5.64], c13Ticks: A_C13_TICKS, c13Zone: 15, c13Gap: 8, c13Size: 11,
  ptR: 2.6, ptFill: ORANGE, ptEdge: '#a85512', petm: A_PETM, petmSize: 13,
  seaData: A_SEA, seaLines: A_SEA_LINES, seaLabels: A_SEA_LABELS, seaLabelSize: 10, arrows: A_ARROWS,
  lithData: A_LITH, thickTicks: A_THICK_TICKS, axisSize: 11, tickLen: 4, borderW: 3,
  tracts: A_TRACTS, mfs: A_MFS, tractSize: 12.5,
  envData: A_ENV, envSize: 11, fmData: A_FM, fmSize: 9.5, shade: A_SHADE,
  hdr: [['env', 'Sedimentary<br>environment', 180, 10, 0.5], ['c13', '&delta;<sup>13</sup>C(&permil;, VPDB)', -90, 13, 0.42],
        ['st', 'System tract', 180, 10, 0.5], ['lith', 'Lithology', 180, 10.5, 0.5], ['axis', 'Thickness', 180, 12.5, 0.5], ['fm', 'Formation', 180, 12.5, 0.5]],
  sea: { rel: 0.25, relSize: 10.5, deep: 0.77, shallow: 0.7, arr: 0.92, small: 9 }
};
const PANEL_B = {
  title: 'Bashibulake Section (This study)', titleSize: 14.5, letter: 'B', lx: 82, ly: 1342,
  L: 94.7, tc: 118.4, x0: 186.9, x1: 610.2, top: 1220, bot: 1470, tl: 61.1, tr: -20.75,
  env: [1220, 1241.7], c13: [1241.7, 1329.3], st: [1329.3, 1348.3], sl: [1348.3, 1411.7], lith: [1411.7, 1436.7], axis: [1436.7, 1455], fm: [1455, 1470],
  lines: [1241.7, 1329.3, 1348.3, 1411.7, 1436.7, 1455],
  c13Data: B_C13, c13Range: [-6.76, 2.79], c13Ticks: B_C13_TICKS, c13Zone: 15, c13Gap: 8, c13Size: 10.5, c13Grid: true,
  ptR: 2.6, ptFill: ORANGE, ptEdge: '#a85512', petm: B_PETM, petmSize: 13,
  seaData: B_SEA, seaLines: B_SEA_LINES, seaLabels: B_SEA_LABELS, seaLabelSize: 10, arrows: B_ARROWS,
  lithData: B_LITH, thickTicks: B_THICK_TICKS, axisSize: 10.5, tickLen: 4, borderW: 1.5,
  tracts: B_TRACTS, mfs: B_MFS, tractSize: 12,
  envData: B_ENV, envLanes: 2, envSize: 10, fmData: B_FM, fmSize: 12, shade: B_SHADE,
  hdr: [['env', 'Sedimentary<br>environment', 180, 10, 0.5], ['c13', '&delta;<sup>13</sup>C(&permil;, VPDB)', -90, 13, 0.45],
        ['st', 'System tract', 180, 10, 0.5], ['lith', 'Lithology', 180, 12, 0.55], ['axis', 'Thickness', 180, 12.5, 0.5], ['fm', 'Formation', 180, 12.5, 0.5]],
  sea: { rel: 0.2, relSize: 10.5, deep: 0.77, shallow: 0.7, arr: 0.93, small: 9 }
};
const PANEL_C = {
  title: 'Qimugen Section (Li et al., 2021b)', titleSize: 14, letter: 'C', lx: 112, ly: 1045,
  L: 124.1, tc: 148.2, x0: 217.1, x1: 640, openRight: true, top: 911.7, bot: 1195, tl: 63.78, tr: -2.76,
  env: [911.7, 938.3], c13: [938.3, 1042.7], st: [1042.7, 1062.7], sl: [1062.7, 1130.7], lith: [1130.7, 1164], axis: [1164, 1178.3], fm: [1178.3, 1195],
  lines: [938.3, 1042.7, 1062.7, 1130.7, 1178.3],
  c13Data: C_C13, c13Range: [-3.21, 4.77], c13Ticks: C_C13_TICKS, c13Zone: 19, c13Gap: 10.5, c13Size: 12,
  ptR: 2.1, ptFill: '#8a8a8a', ptEdge: ORANGE, petm: C_PETM, petmSize: 14,
  seaData: C_SEA, seaLines: C_SEA_LINES, seaLabels: C_SEA_LABELS, seaLabelSize: 11, arrows: C_ARROWS,
  lithData: C_LITH, thickTicks: C_THICK_TICKS, axisSize: 10.5, tickLen: 3, borderW: 3,
  tracts: C_TRACTS, mfs: C_MFS, tractSize: 13,
  envData: C_ENV, envSize: 11.5, fmData: C_FM, fmSize: 13, shade: C_SHADE,
  hdr: [['env', 'Sedimentary<br>environment', 180, 10.5, 0.5], ['c13', '&delta;<sup>13</sup>C(&permil;,PDB)', -90, 14, 0.37],
        ['st', 'System tract', 180, 10, 0.5], [[1130.7, 1178.3], 'Lithology', 180, 13, 0.5], ['fm', 'Formation', 180, 12.5, 0.5]],
  sea: { rel: 0.26, relSize: 13, deep: 0.75, shallow: 0.7, arr: 0.9, small: 10 }
};
const PANEL_D = {
  title: 'Mine Section (Kaya et al., 2022)', titleSize: 14, letter: 'D', lx: 87, ly: 747,
  L: 100.7, tc: 125, x0: 193.3, x1: 615.5, top: 600, bot: 885, tl: 12.29, tr: -0.06,
  c13: [600, 740], st: [740, 760], sl: [760, 827.3], lith: [827.3, 864.3], axis: [864.3, 885],
  lines: [740, 760, 827.3],
  c13Data: D_C13, c13Range: [-31.55, -24.31], c13Ticks: D_C13_TICKS, c13Minor: D_C13_MINOR, c13Zone: 19, c13Gap: 10.5, c13Size: 12, c13TickLen: 6,
  ptR: 3, ptFill: ORANGE, ptEdge: '#c26a14', petm: D_PETM, petmSize: 14,
  seaData: D_SEA, arrows: D_ARROWS,
  lithData: D_LITH, thickTicks: D_THICK_TICKS, axisSize: 11.5, tickLen: 3, borderW: 1,
  tracts: D_TRACTS, mfs: D_MFS, tractSize: 13, shade: D_SHADE,
  hdr: [['c13', '&delta;<sup>13</sup>C(&permil;)', -90, 14, 0.32], ['st', 'System tract', 180, 10, 0.5],
        [[827.3, 885], 'Lithology', -90, 14, 0.56]],
  sea: { rel: 0.17, relSize: 12, deep: 0.76, shallow: 0.7, arr: 0.89, small: 9.5 }
};
const PANEL_E = {
  title: 'Guru-Fatima Section (Gavrilov et al., 2003)', titleSize: 13, letter: 'E', lx: 78, ly: 442,
  L: 94.3, tc: 118.3, x0: 187.8, x1: 609.6, top: 305, bot: 569, tl: 6.16, tr: -4.18,
  c13: [305, 394], st: [394, 413], sl: [413, 486], lith: [486, 520], axis: [520, 547], fm: [547, 569],
  lines: [394, 413, 486, 520, 547],
  c13Data: E_C13, c13Range: [-31.56, -25.09], c13Ticks: E_C13_TICKS, c13Zone: 0, c13Gap: 10, c13Size: 12.5, c13TickLen: 5,
  c13AxisOffset: 29.2, c13AxisLine: true,
  ptR: 3, ptFill: '#ee7d12', ptEdge: '#c26a14', petm: E_PETM, petmSize: 13,
  seaData: E_SEA, arrows: E_ARROWS,
  lithData: E_LITH, thickTicks: E_THICK_TICKS, axisSize: 13, tickLen: 5, borderW: 1,
  tracts: E_TRACTS, mfs: E_MFS, tractSize: 12, fmData: E_PF, fmSize: 14, shade: E_SHADE,
  hdr: [['c13', '&delta;<sup>13</sup>C(&permil;,PDB)', -90, 14, 0.43], ['st', 'System tract', 180, 10, 0.5],
        ['lith', 'Lithology', 180, 14.5, 0.5], ['axis', 'Thickness', 180, 12.5, 0.5], ['fm', 'PF zone', 180, 14, 0.5]],
  sea: { rel: 0.22, relSize: 15, deep: 0.79, shallow: 0.72, arr: 0.89, small: 9.5 }
};
const PANEL_F = {
  title: 'Bora Tokay Section (Zhang et al., 2018)', titleSize: 13.5, letter: 'F', lx: 20, ly: 145,
  L: 29.3, tc: 52.7, x0: 120.7, x1: 544, top: 13, bot: 275, tl: 208.4, tr: 10.1,
  env: [13, 36.7], st: [36.7, 56.7], sl: [56.7, 166.7], lith: [166.7, 203], axis: [203, 240], mem: [240, 255], fm: [255, 275],
  lines: [36.7, 56.7, 166.7, 240, 255],
  seaData: F_SEA, seaLines: F_SEA_LINES, seaLabels: F_SEA_LABELS, seaLabelSize: 11, arrows: F_ARROWS,
  lithData: F_LITH, nodules: F_NODULES, thickTicks: F_THICK_TICKS, axisSize: 12, tickLen: 9, borderW: 1,
  tracts: F_TRACTS, tractSize: 12.5,
  envData: F_ENV, envSize: 11.5, memData: F_MEMBER, memSize: 11.5, fmData: F_FM, fmSize: 13, shade: F_SHADE,
  hdr: [['env', 'Sedimentary<br>environment', 180, 10, 0.5], ['st', 'System tract', 180, 10, 0.5],
        [[166.7, 240], 'Lithology', -90, 14.5, 0.43], ['mem', 'Member', 180, 12, 0.5], ['fm', 'Formation', 180, 12, 0.5]],
  sea: { rel: 0.35, relSize: 15, arr: 0.84, small: 10, combined: true }
};

const built = {};
[['A', PANEL_A], ['B', PANEL_B], ['C', PANEL_C], ['D', PANEL_D], ['E', PANEL_E], ['F', PANEL_F]]
  .forEach(([k, P]) => { built[k] = build(P); });

// PETM onset line through all sections, placed on section A's depth scale
const onsetX = built.A.px(PETM_ONSET_A);
const dash = document.createElement('div');
dash.style.cssText = 'position:absolute;left:' + (onsetX - 0.75) + 'px;top:0;height:1793px;border-left:1.6px dashed ' + MAGENTA + ';';
fig.appendChild(dash);
txt('Eocene', 306, 1784, 180, 16, MAGENTA);
txt('Paleocene', 520, 1784, 180, 16, MAGENTA);
txt('PETM<br>onset', onsetX, 1806, 180, 16, MAGENTA);
</script>
</body>
</html>
